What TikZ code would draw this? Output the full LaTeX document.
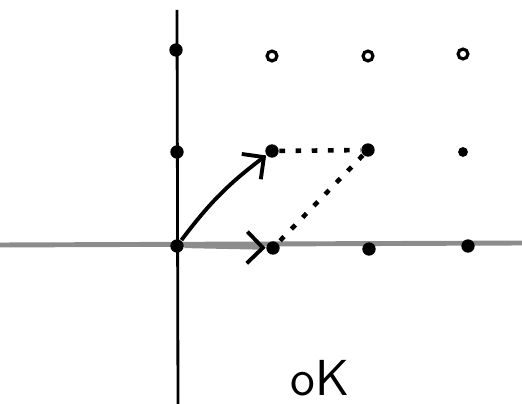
\documentclass[tikz,border=0pt]{standalone}
\usepackage{tikz}
\usetikzlibrary{arrows.meta}

\begin{document}
\begin{tikzpicture}[
            x=0.01cm, y=-0.01cm,
            dot/.style={circle, fill=black, inner sep=0pt, minimum size=3.8pt},
            smalldot/.style={circle, fill=black, inner sep=0pt, minimum size=2.8pt},
            ring/.style={circle, draw=black, line width=0.9pt, inner sep=0pt, minimum size=2.8pt},
            axis/.style={line width=0.8pt, draw=black},
            grayaxis/.style={line width=1.4pt, draw=black!45},
            vec/.style={line width=1.1pt, draw=black, -{Straight Barb[length=4.5pt,width=9pt,line width=1.1pt,color=black]}},
            link/.style={line width=1.3pt, draw=black, dash pattern=on 1.6pt off 3pt}
        ]
        \useasboundingbox (0,0) rectangle (522,404);

        % Axes
        \coordinate (ytop) at (177,10);
        \coordinate (ybot) at (178,404);
        \coordinate (xleft) at (0,245);
        \coordinate (xright) at (522,243);
        \draw[axis] (ytop) -- (ybot);
        \draw[grayaxis] (xleft) -- (xright);

        % Lattice points
        \node[dot] (o) at (177,246) {};
        \node[dot] (y1) at (177,152) {};
        \node[dot] (y2) at (176,50) {};
        \node[ring] (r1) at (272,56) {};
        \node[ring] (r2) at (368,56) {};
        \node[ring] (r3) at (463,54) {};
        \node[dot] (b) at (272,151) {};
        \node[dot] (s) at (368,150) {};
        \node[smalldot] (p) at (463,152) {};
        \node[dot] (a) at (273,248) {};
        \node[dot] (x2) at (369,249) {};
        \node[dot] (x3) at (468,246) {};

        % Basis vectors
        \draw[vec] (o) to[bend left=8] (b);
        \draw[vec, draw=black!45] (o) -- (a);

        % Sum
        \draw[link] (b) -- (s);
        \draw[link] (s) -- (a);

        % Label
        \node[font=\sffamily\Large] (ok) at (320,378) {oK};

        \end{tikzpicture}
\end{document}
